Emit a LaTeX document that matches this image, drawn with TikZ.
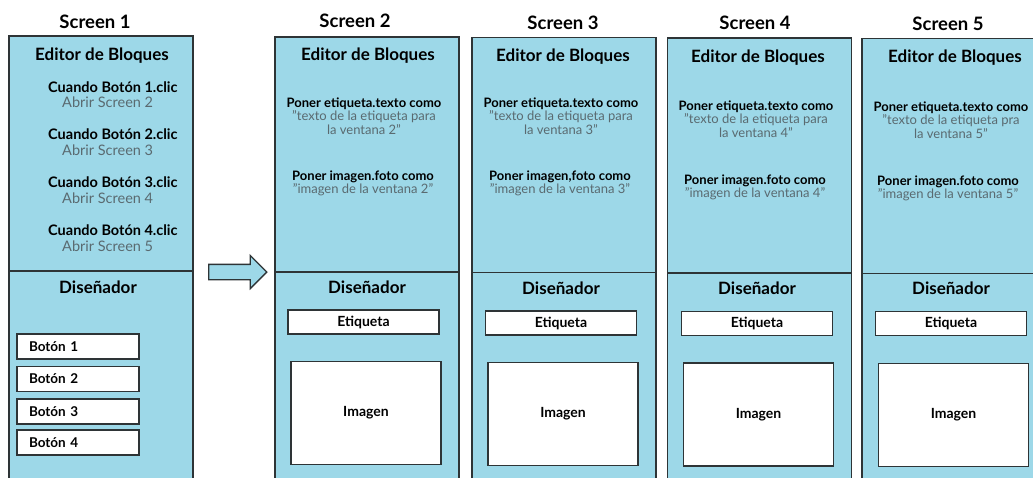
\documentclass[tikz,border=0pt]{standalone}
\usepackage{fontspec}
\setmainfont{Lato}
\usetikzlibrary{positioning,shapes.arrows}
\definecolor{panelColor}{HTML}{9DD8E8}
\definecolor{lineColor}{HTML}{2E3436}
\definecolor{softColor}{HTML}{5A6A70}
\tikzset{
	panel/.style={draw=lineColor, fill=panelColor, line width=1.3pt, minimum width=184pt, inner sep=0},
	title/.style={anchor=base, font=\bfseries\fontsize{18.5}{20}\selectfont},
	head/.style={anchor=base, font=\bfseries\fontsize{17}{19}\selectfont},
	cuando/.style={anchor=base west, inner sep=0, font=\bfseries\fontsize{14.5}{16}\selectfont},
	abrir/.style={anchor=base west, inner sep=0, text=softColor, font=\fontsize{14.5}{16}\selectfont},
	poner/.style={anchor=base, inner sep=0, font=\fontsize{13}{13.5}\selectfont},
	wbox/.style={draw=lineColor, fill=white, line width=1.3pt, inner sep=0},
	boton/.style={wbox, minimum width=122pt, minimum height=25pt, text width=98pt, align=left, font=\bfseries\fontsize{13.5}{15}\selectfont},
	etiq/.style={wbox, minimum width=151pt, minimum height=24pt, font=\bfseries\fontsize{14}{15}\selectfont},
	imag/.style={wbox, minimum width=150pt, minimum height=103pt, font=\bfseries\fontsize{14}{15}\selectfont}
}
\newcommand{\gris}[1]{\textcolor{softColor}{\mdseries #1}}
\begin{document}
\begin{tikzpicture}[x=1pt, y=-1pt]
	\useasboundingbox (0,0) rectangle (1033,477);
	\clip (0,0) rectangle (1033,477);
	% Screen 1
	\node[title] (s1) at (95, 28) {Screen 1};
	\node[panel, minimum height=235pt] (ed1) at (101, 153.5) {};
	\node[panel, minimum height=220pt] (di1) at (101, 381) {};
	\node[head] (eb1) at (102, 60) {Editor de Bloques};
	\node[cuando] (c1) at (48, 92) {Cuando Botón 1.clic};
	\node[abrir] (a1) at (62, 107) {Abrir Screen 2};
	\node[cuando] (c2) at (48, 139) {Cuando Botón 2.clic};
	\node[abrir] (a2) at (62, 155) {Abrir Screen 3};
	\node[cuando] (c3) at (48, 187) {Cuando Botón 3.clic};
	\node[abrir] (a3) at (62, 203) {Abrir Screen 4};
	\node[cuando] (c4) at (48, 235) {Cuando Botón 4.clic};
	\node[abrir] (a4) at (62, 251) {Abrir Screen 5};
	\node[head] (ds1) at (98, 293) {Diseñador};
	\node[boton] (b1) at (78, 346.5) {Botón 1};
	\node[boton] (b2) at (78, 379) {Botón 2};
	\node[boton] (b3) at (78, 411.5) {Botón 3};
	\node[boton] (b4) at (78, 442.5) {Botón 4};
	
	\node[single arrow, draw=lineColor, fill=panelColor, line width=1.3pt, inner sep=7pt,
		minimum height=58pt, single arrow head extend=9pt] (flecha) at (234, 272) {};
	
	% Screen 2
	\node[title] (s2) at (355, 27) {Screen 2};
	\node[panel, minimum height=235pt] (ed2) at (367, 154.5) {};
	\node[panel, minimum height=220pt] (di2) at (367, 382) {};
	\node[head] (eb2) at (368, 60) {Editor de Bloques};
	\node[poner] (pe2) at (364, 107) {\begin{tabular}[t]{@{}c@{}}
			\textbf{Poner etiqueta.texto como} \\ \gris{"texto de la etiqueta para} \\ \gris{la ventana 2"}
	\end{tabular}};
	\node[poner] (pi2) at (363, 180) {\begin{tabular}[t]{@{}c@{}}
			\textbf{Poner imagen.foto como} \\ \gris{"imagen de la ventana 2"}
	\end{tabular}};
	\node[head] (ds2) at (367, 293) {Diseñador};
	\node[etiq] (et2) at (363.5, 322) {Etiqueta};
	\node[imag] (im2) at (366, 413) {Imagen};
	
	% Screen 3
	\node[title] (s3) at (563, 29) {Screen 3};
	\node[panel, minimum height=235pt] (ed3) at (564, 155) {};
	\node[panel, minimum height=220pt] (di3) at (564, 382.5) {};
	\node[head] (eb3) at (563, 61) {Editor de Bloques};
	\node[poner] (pe3) at (561, 107) {\begin{tabular}[t]{@{}c@{}}
			\textbf{Poner etiqueta.texto como} \\ \gris{"texto de la etiqueta para} \\ \gris{la ventana 3"}
	\end{tabular}};
	\node[poner] (pi3) at (560, 180) {\begin{tabular}[t]{@{}c@{}}
			\textbf{Poner imagen,foto como} \\ \gris{"imagen de la ventana 3"}
	\end{tabular}};
	\node[head] (ds3) at (561, 294) {Diseñador};
	\node[etiq] (et3) at (561, 323) {Etiqueta};
	\node[imag] (im3) at (563, 414) {Imagen};
	
	% Screen 4
	\node[title] (s4) at (755, 29) {Screen 4};
	\node[panel, minimum height=235pt] (ed4) at (759.5, 155.5) {};
	\node[panel, minimum height=220pt] (di4) at (759.5, 383) {};
	\node[head] (eb4) at (758, 62) {Editor de Bloques};
	\node[poner] (pe4) at (756, 110) {\begin{tabular}[t]{@{}c@{}}
			\textbf{Poner etiqueta.texto como} \\ \gris{"texto de la etiqueta para} \\ \gris{la ventana 4"}
	\end{tabular}};
	\node[poner] (pi4) at (755, 184) {\begin{tabular}[t]{@{}c@{}}
			\textbf{Poner imagen.foto como} \\ \gris{"imagen de la ventana 4"}
	\end{tabular}};
	\node[head] (ds4) at (757, 294) {Diseñador};
	\node[etiq] (et4) at (757, 323.5) {Etiqueta};
	\node[imag] (im4) at (758.5, 414.5) {Imagen};
	
	% Screen 5
	\node[title] (s5) at (948, 30) {Screen 5};
	\node[panel, minimum height=235pt] (ed5) at (954, 156) {};
	\node[panel, minimum height=220pt] (di5) at (954, 383.5) {};
	\node[head] (eb5) at (955, 62) {Editor de Bloques};
	\node[poner] (pe5) at (951, 111) {\begin{tabular}[t]{@{}c@{}}
			\textbf{Poner etiqueta.texto como} \\ \gris{"texto de la etiqueta pra} \\ \gris{la ventana 5"}
	\end{tabular}};
	\node[poner] (pi5) at (948, 185) {\begin{tabular}[t]{@{}c@{}}
			\textbf{Poner imagen.foto como} \\ \gris{"imagen de la ventana 5"}
	\end{tabular}};
	\node[head] (ds5) at (951, 294) {Diseñador};
	\node[etiq] (et5) at (951, 323.5) {Etiqueta};
	\node[imag] (im5) at (953.5, 415) {Imagen};
\end{tikzpicture}
\end{document}
